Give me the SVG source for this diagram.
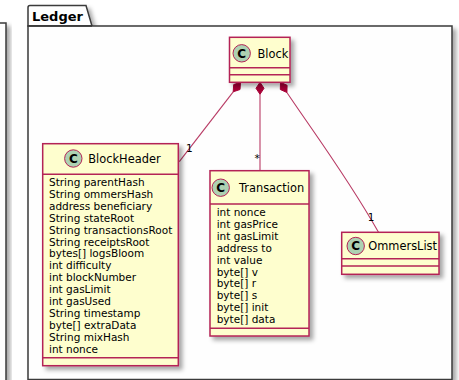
<svg xmlns="http://www.w3.org/2000/svg" width="459" height="380" viewBox="0 0 459 380">
<defs>
<filter id="sh" x="-10%" y="-10%" width="130%" height="130%">
<feDropShadow dx="3.5" dy="3.5" stdDeviation="2" flood-color="#000" flood-opacity="0.35"/>
</filter>
<style>
.frame{fill:#FEFEFE;stroke:#3a3a3a;stroke-width:1.5}
.cls{fill:#FEFECE;stroke:#B42456;stroke-width:1.5}
.div{stroke:#B42456;stroke-width:1.5;fill:none}
.circ{fill:#ADD1B2;stroke:#B42456;stroke-width:1}
.cl{font-family:"DejaVu Sans",sans-serif;font-weight:bold;font-size:12px;fill:#000;text-anchor:middle}
.ttl{font-family:"DejaVu Sans",sans-serif;font-size:11.4px;fill:#000}
.att{font-family:"DejaVu Sans",sans-serif;font-size:10.5px;fill:#000}
.pk{font-family:"DejaVu Sans",sans-serif;font-weight:bold;font-size:13px;fill:#000}
.edge{stroke:#B83A64;stroke-width:1.1;fill:none}
.dia{fill:#A80036;stroke:#A80036;stroke-width:1}
.lbl{font-family:"DejaVu Sans",sans-serif;font-size:10.5px;fill:#000;text-anchor:middle}
</style>
</defs>
<rect width="459" height="380" fill="#FFFFFF"/>
<g id="leftpanel">
<rect class="frame" x="-20" y="23" width="26" height="400" filter="url(#sh)"/>
</g>
<g id="Ledger">
<g filter="url(#sh)">
<path class="frame" d="M28,26 L28,7.5 Q28,5.5 30,5.5 L86,5.5 L92,26 Z"/>
<rect class="frame" x="28" y="26" width="424" height="353.5"/>
</g>
<path d="M28,26 L92,26" stroke="#3a3a3a" stroke-width="1.5"/>
<text class="pk" x="32" y="21">Ledger</text>
</g>
<g id="connectors">
<path class="edge" d="M233.2,91.8 L179.3,161.7"/>
<polygon class="dia" points="240.5,82.3 240.0,89.5 233.2,91.8 233.7,84.6"/>
<path class="edge" d="M260,94.3 L260,170.7"/>
<polygon class="dia" points="260,82.3 264,88.3 260,94.3 256,88.3"/>
<path class="edge" d="M286.9,92.5 C312,130 348,178 378.5,232.3"/>
<polygon class="dia" points="280.5,82.3 287.1,85.3 286.9,92.5 280.3,89.5"/>
<text class="lbl" x="189.3" y="152">1</text>
<text class="lbl" x="257" y="162">*</text>
<text class="lbl" x="371" y="221">1</text>
</g>
<g id="Block">
<rect class="cls" x="229.5" y="37.3" width="60.5" height="45" filter="url(#sh)"/>
<path class="div" d="M229.5,67.7 H290 M229.5,74.8 H290"/>
<circle class="circ" cx="241.7" cy="53.3" r="8.7"/>
<text class="cl" x="241.7" y="57.6">C</text>
<text class="ttl" x="257.5" y="57.5">Block</text>
</g>
<g id="BlockHeader">
<rect class="cls" x="42.7" y="143.7" width="135.6" height="222" filter="url(#sh)"/>
<path class="div" d="M42.7,174.3 H178.3 M42.7,357.7 H178.3"/>
<circle class="circ" cx="73.3" cy="158.5" r="8.7"/>
<text class="cl" x="73.3" y="162.8">C</text>
<text class="ttl" x="88.3" y="162.7">BlockHeader</text>
<text class="att" x="49" y="186">String parentHash</text>
<text class="att" x="49" y="197.9">String ommersHash</text>
<text class="att" x="49" y="209.8">address beneficiary</text>
<text class="att" x="49" y="221.7">String stateRoot</text>
<text class="att" x="49" y="233.6">String transactionsRoot</text>
<text class="att" x="49" y="245.5">String receiptsRoot</text>
<text class="att" x="49" y="257.4">bytes[] logsBloom</text>
<text class="att" x="49" y="269.3">int difficulty</text>
<text class="att" x="49" y="281.2">int blockNumber</text>
<text class="att" x="49" y="293.1">int gasLimit</text>
<text class="att" x="49" y="305">int gasUsed</text>
<text class="att" x="49" y="316.9">String timestamp</text>
<text class="att" x="49" y="328.8">byte[] extraData</text>
<text class="att" x="49" y="340.7">String mixHash</text>
<text class="att" x="49" y="352.6">int nonce</text>
</g>
<g id="Transaction">
<rect class="cls" x="210" y="170.7" width="99" height="165.3" filter="url(#sh)"/>
<path class="div" d="M210,204 H309 M210,328.3 H309"/>
<circle class="circ" cx="220.7" cy="187.7" r="8.7"/>
<text class="cl" x="220.7" y="192">C</text>
<text class="ttl" x="239" y="192">Transaction</text>
<text class="att" x="216.7" y="216">int nonce</text>
<text class="att" x="216.7" y="227.9">int gasPrice</text>
<text class="att" x="216.7" y="239.8">int gasLimit</text>
<text class="att" x="216.7" y="251.7">address to</text>
<text class="att" x="216.7" y="263.6">int value</text>
<text class="att" x="216.7" y="275.5">byte[] v</text>
<text class="att" x="216.7" y="287.4">byte[] r</text>
<text class="att" x="216.7" y="299.3">byte[] s</text>
<text class="att" x="216.7" y="311.2">byte[] init</text>
<text class="att" x="216.7" y="323.1">byte[] data</text>
</g>
<g id="OmmersList">
<rect class="cls" x="341.7" y="232.3" width="97.3" height="42" filter="url(#sh)"/>
<path class="div" d="M341.7,258.8 H439 M341.7,266 H439"/>
<circle class="circ" cx="355.7" cy="246" r="8.7"/>
<text class="cl" x="355.7" y="250.3">C</text>
<text class="ttl" x="368.3" y="250.2">OmmersList</text>
</g>
</svg>
